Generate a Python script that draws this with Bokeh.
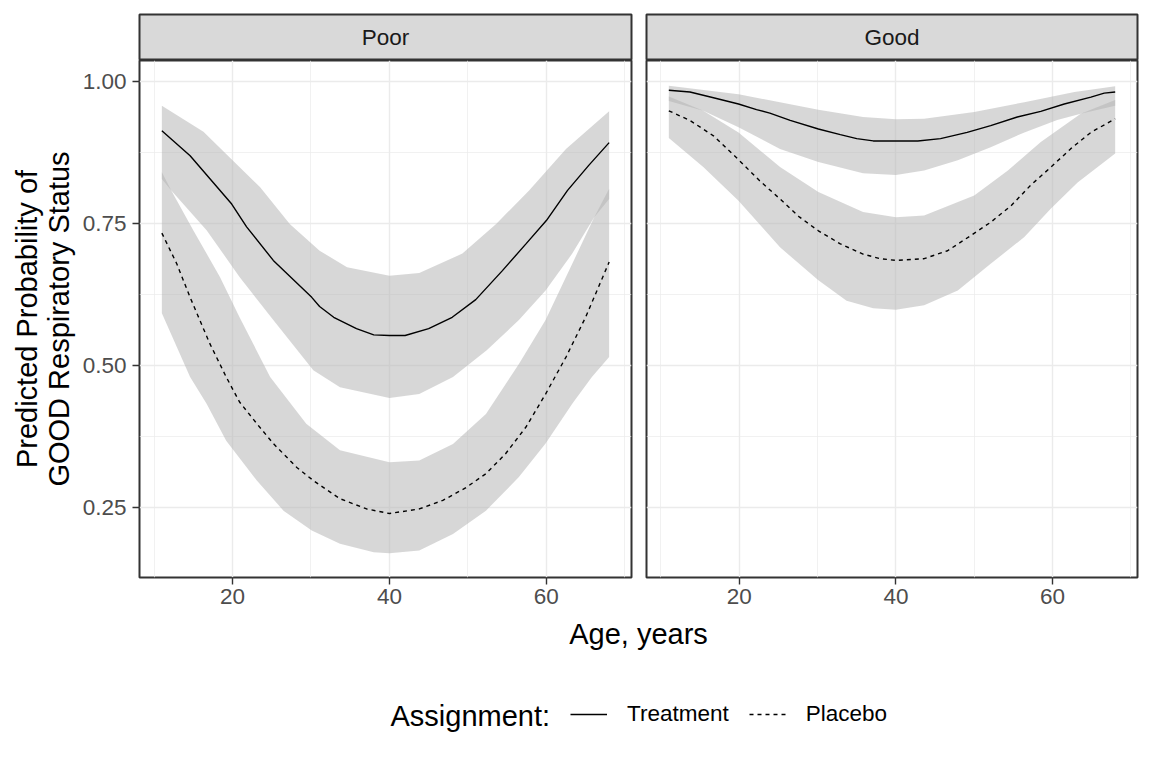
from bokeh.plotting import figure
from bokeh.layouts import column, row
from bokeh.models import (Range1d, FixedTicker, Grid, Label, Legend, LegendItem,
                          NumeralTickFormatter)
from bokeh.embed import file_html
from bokeh.resources import INLINE

FONT = "Liberation Sans"

# ---------------- data ----------------
panels = ["Poor", "Good"]
groups = ["Treatment", "Placebo"]
x_ticks = [20, 40, 60]
x_minor = [10, 30, 50, 70]
y_ticks = [0.25, 0.50, 0.75, 1.00]
y_minor = [0.375, 0.625, 0.875]

# Poor / Treatment
poor_trt_age = [11, 14.6, 17.1, 19.9, 21.8, 25.2, 30.1, 31.1, 32.9, 35.8, 38, 40, 42, 45, 48, 51, 54.4, 57.4, 60, 62.7, 65.4, 68]
poor_trt_fit = [0.913, 0.869, 0.829, 0.784, 0.744, 0.685, 0.620, 0.604, 0.585, 0.565, 0.554, 0.553, 0.553, 0.565, 0.585, 0.616, 0.667, 0.714, 0.755, 0.808, 0.852, 0.892]
poor_trt_up_age = [11, 16.3, 23.5, 27.3, 31.1, 34.6, 40, 43.8, 49.3, 53.6, 57.8, 62.5, 68]
poor_trt_up = [0.957, 0.911, 0.814, 0.749, 0.702, 0.673, 0.658, 0.663, 0.697, 0.749, 0.808, 0.881, 0.947]
poor_trt_lo_age = [11, 12.2, 16.7, 20.9, 25.2, 30.3, 33.7, 40, 43.8, 48.1, 52.4, 56.5, 59.9, 63.3, 66.1, 68]
poor_trt_lo = [0.828, 0.808, 0.738, 0.656, 0.580, 0.492, 0.462, 0.443, 0.450, 0.480, 0.527, 0.580, 0.632, 0.697, 0.761, 0.793]

# Poor / Placebo
poor_pla_age = [11, 12.9, 14.6, 17.1, 19.2, 20.9, 23.1, 25.2, 28.2, 30.3, 33.7, 37.1, 40, 43.8, 46.8, 49.7, 52.3, 54.8, 57.4, 59.9, 62.5, 65, 68]
poor_pla_fit = [0.733, 0.679, 0.620, 0.539, 0.480, 0.436, 0.398, 0.363, 0.321, 0.298, 0.266, 0.248, 0.240, 0.248, 0.263, 0.285, 0.310, 0.345, 0.392, 0.450, 0.515, 0.585, 0.682]
poor_pla_up_age = [11, 12.2, 15, 18.4, 20.9, 24.8, 29.4, 33.7, 40, 43.8, 48.1, 52.3, 56.5, 59.9, 63.3, 66.1, 68]
poor_pla_up = [0.840, 0.808, 0.738, 0.656, 0.585, 0.480, 0.398, 0.351, 0.330, 0.333, 0.362, 0.415, 0.503, 0.580, 0.679, 0.761, 0.811]
poor_pla_lo_age = [11, 14.6, 16.7, 19.2, 23.1, 26.5, 30.1, 33.7, 38, 40, 43.8, 48.1, 52.3, 56.5, 59.9, 63.3, 65.8, 68]
poor_pla_lo = [0.592, 0.480, 0.433, 0.368, 0.298, 0.245, 0.210, 0.187, 0.172, 0.170, 0.175, 0.204, 0.245, 0.304, 0.363, 0.433, 0.480, 0.515]

# Good / Treatment
good_trt_age = [11, 13.7, 16.7, 19.9, 22.2, 23.9, 26.5, 30.1, 32.9, 35, 37.1, 40, 42.8, 45.7, 49.1, 52.1, 55.5, 58.5, 61.5, 64.9, 66.6, 68]
good_trt_fit = [0.984, 0.981, 0.971, 0.960, 0.950, 0.944, 0.931, 0.916, 0.906, 0.899, 0.895, 0.895, 0.895, 0.899, 0.910, 0.922, 0.937, 0.947, 0.960, 0.972, 0.979, 0.981]
good_trt_up_age = [11, 19.9, 30.1, 35.8, 40, 43.6, 50, 56.4, 62.8, 68]
good_trt_up = [0.992, 0.977, 0.950, 0.937, 0.933, 0.934, 0.946, 0.963, 0.981, 0.991]
good_trt_lo_age = [11, 15.4, 19.9, 25.2, 30.1, 35.8, 40, 43.6, 47.9, 52.1, 56.4, 60.6, 63.6, 68]
good_trt_lo = [0.965, 0.948, 0.919, 0.881, 0.858, 0.838, 0.835, 0.843, 0.861, 0.884, 0.910, 0.932, 0.943, 0.957]

# Good / Placebo
good_pla_age = [11, 13.7, 16.7, 19.9, 22.6, 25.2, 27.7, 30.1, 32.9, 35.8, 38, 40, 43.6, 46.6, 49.6, 52.1, 54.7, 57.2, 59.8, 62.3, 64.9, 68]
good_pla_fit = [0.948, 0.931, 0.904, 0.862, 0.825, 0.793, 0.761, 0.737, 0.714, 0.696, 0.688, 0.685, 0.688, 0.702, 0.729, 0.752, 0.781, 0.817, 0.849, 0.881, 0.910, 0.934]
good_pla_up_age = [11, 15.4, 19.9, 25.2, 30.1, 35.8, 40, 43.6, 50, 54.3, 58.5, 63.6, 68]
good_pla_up = [0.973, 0.948, 0.910, 0.849, 0.805, 0.770, 0.761, 0.764, 0.799, 0.843, 0.893, 0.943, 0.967]
good_pla_lo_age = [11, 15.4, 19.9, 25.2, 30.1, 33.7, 37.1, 40, 43.6, 47.9, 52.1, 56.4, 59.8, 63.2, 68]
good_pla_lo = [0.900, 0.849, 0.790, 0.708, 0.650, 0.614, 0.601, 0.598, 0.606, 0.632, 0.679, 0.726, 0.776, 0.822, 0.873]

series = {
    "Poor": [
        ("Treatment", poor_trt_age, poor_trt_fit, poor_trt_up_age, poor_trt_up, poor_trt_lo_age, poor_trt_lo),
        ("Placebo", poor_pla_age, poor_pla_fit, poor_pla_up_age, poor_pla_up, poor_pla_lo_age, poor_pla_lo),
    ],
    "Good": [
        ("Treatment", good_trt_age, good_trt_fit, good_trt_up_age, good_trt_up, good_trt_lo_age, good_trt_lo),
        ("Placebo", good_pla_age, good_pla_fit, good_pla_up_age, good_pla_up, good_pla_lo_age, good_pla_lo),
    ],
}

# ---------------- styling ----------------
X_RANGE = (8.15, 70.85)
Y_RANGE = (0.1275, 1.0364)
DASH = {"Treatment": "solid", "Placebo": "4 4"}
BORDER = "#333333"
GRID = "#EBEBEB"
SMALL = "22.5px"
BIG = "29px"

LEFT_W, LEFT_BL, LEFT_BR = 633, 139, 2
RIGHT_W, RIGHT_BL, RIGHT_BR = 507, 13, 3


def make_strip(width, bl, br, text):
    s = figure(width=width, height=60, x_range=Range1d(0, 1), y_range=Range1d(0, 1),
               x_axis_location=None, y_axis_location=None, toolbar_location=None,
               output_backend="svg", min_border_left=bl, min_border_right=br,
               min_border_top=14, min_border_bottom=0)
    s.grid.visible = False
    s.background_fill_color = "#D9D9D9"
    s.border_fill_color = "white"
    s.outline_line_color = BORDER
    s.outline_line_width = 2
    s.add_layout(Label(x=0.5, y=0.5, text=text, text_align="center", text_baseline="middle",
                       text_font=FONT, text_font_size=SMALL, text_color="#1A1A1A"))
    return s


def make_panel(name, width, bl, br, show_y):
    p = figure(width=width, height=557, x_range=Range1d(*X_RANGE), y_range=Range1d(*Y_RANGE),
               x_axis_location="below", y_axis_location="left" if show_y else None,
               toolbar_location=None, output_backend="svg",
               min_border_left=bl, min_border_right=br, min_border_top=0, min_border_bottom=40)
    p.background_fill_color = "white"
    p.border_fill_color = "white"
    p.outline_line_color = BORDER
    p.outline_line_width = 2
    p.center = []
    gx = Grid(dimension=0, ticker=FixedTicker(ticks=x_ticks, minor_ticks=x_minor),
              grid_line_color=GRID, grid_line_width=1.4,
              minor_grid_line_color=GRID, minor_grid_line_width=0.7)
    gy = Grid(dimension=1, ticker=FixedTicker(ticks=y_ticks, minor_ticks=y_minor),
              grid_line_color=GRID, grid_line_width=1.4,
              minor_grid_line_color=GRID, minor_grid_line_width=0.7)
    p.add_layout(gx, "center")
    p.add_layout(gy, "center")

    axes = list(p.xaxis) + (list(p.yaxis) if show_y else [])
    for ax in axes:
        ax.axis_line_color = None
        ax.major_tick_line_color = BORDER
        ax.major_tick_line_width = 1.4
        ax.major_tick_out = 7
        ax.major_tick_in = 0
        ax.minor_tick_line_color = None
        ax.major_label_text_font = FONT
        ax.major_label_text_font_size = SMALL
        ax.major_label_text_color = "#4D4D4D"
    p.xaxis.ticker = FixedTicker(ticks=x_ticks)
    p.xaxis.major_label_standoff = 4
    if show_y:
        p.yaxis.ticker = FixedTicker(ticks=y_ticks)
        p.yaxis.formatter = NumeralTickFormatter(format="0.00")
        p.yaxis.major_label_standoff = 6
        p.yaxis.axis_label = "Predicted Probability of\nGOOD Respiratory Status"
        p.yaxis.axis_label_text_font = FONT
        p.yaxis.axis_label_text_font_size = BIG
        p.yaxis.axis_label_text_font_style = "normal"
        p.yaxis.axis_label_text_color = "black"
        p.yaxis.axis_label_text_line_height = 1.0
        p.yaxis.axis_label_standoff = 5

    for (grp, age, fit, up_age, up, lo_age, lo) in series[name]:
        p.patch(x=list(up_age) + list(lo_age)[::-1], y=list(up) + list(lo)[::-1],
                fill_color="#B3B3B3", fill_alpha=0.53, line_color=None)
    for (grp, age, fit, up_age, up, lo_age, lo) in series[name]:
        p.line(x=age, y=fit, line_color="black", line_width=1.4, line_dash=DASH[grp])
    return p


strip_poor = make_strip(LEFT_W, LEFT_BL, LEFT_BR, panels[0])
strip_good = make_strip(RIGHT_W, RIGHT_BL, RIGHT_BR, panels[1])
panel_poor = make_panel("Poor", LEFT_W, LEFT_BL, LEFT_BR, True)
panel_good = make_panel("Good", RIGHT_W, RIGHT_BL, RIGHT_BR, False)

# bottom area: x-axis title and legend
BW, BH = LEFT_W + RIGHT_W, 148
b = figure(width=BW, height=BH, x_range=Range1d(0, BW), y_range=Range1d(0, BH),
           x_axis_location=None, y_axis_location=None, toolbar_location=None,
           output_backend="svg", min_border=0)
b.grid.visible = False
b.outline_line_color = None
b.background_fill_color = "white"
b.border_fill_color = "white"

x_center = (LEFT_BL + LEFT_W + RIGHT_W - RIGHT_BR) / 2.0
b.add_layout(Label(x=x_center, y=BH - 16.5, text="Age, years", text_align="center",
                   text_baseline="alphabetic", text_font=FONT, text_font_size=BIG,
                   text_color="black"))
b.add_layout(Label(x=390, y=BH - 98.5, text="Assignment:", text_align="left",
                   text_baseline="alphabetic", text_font=FONT, text_font_size=BIG,
                   text_color="black"))

nan = float("nan")
items = []
for grp in groups:
    r = b.line(x=[nan], y=[nan], line_color="black", line_width=1.4, line_dash=DASH[grp])
    items.append(LegendItem(label=grp, renderers=[r]))
legend = Legend(items=items, orientation="horizontal", location=(570, BH - 110),
                padding=0, margin=0, spacing=20, glyph_width=37, glyph_height=20,
                label_standoff=20, label_height=20, label_text_font=FONT,
                label_text_font_size=SMALL, label_text_color="black",
                background_fill_alpha=0, border_line_color=None)
b.add_layout(legend, "center")

layout = column(row(strip_poor, strip_good), row(panel_poor, panel_good), b)

open("out.html", "w").write(file_html(layout, INLINE))
